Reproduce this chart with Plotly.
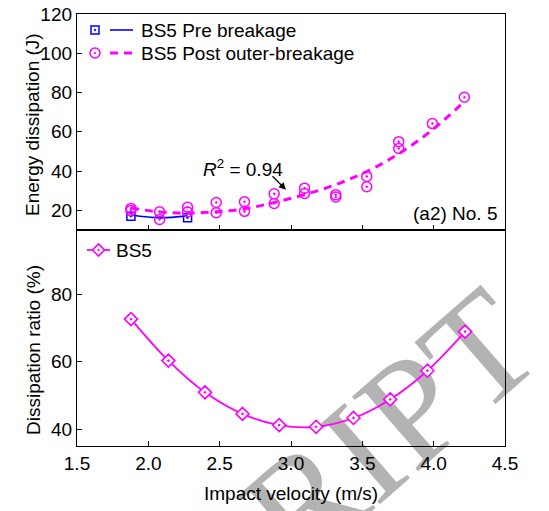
import plotly.graph_objects as go
from plotly.subplots import make_subplots

# ---------------- data ----------------
# Top panel: energy dissipation (J)
pre_v = [1.878, 2.275]
pre_E = [17.0, 16.3]
pre_fit_v = [1.878, 2.079, 2.275]
pre_fit_E = [17.6, 16.2, 17.2]

post_v = [1.878, 1.878, 2.079, 2.079, 2.275, 2.275, 2.476, 2.476, 2.674, 2.674,
          2.882, 2.882, 3.095, 3.095, 3.314, 3.314, 3.531, 3.531, 3.755, 3.755,
          3.991, 4.215]
post_E = [21.0, 19.9, 19.3, 15.4, 21.6, 19.2, 24.0, 18.8, 24.4, 19.5,
          28.4, 23.5, 31.3, 28.6, 28.0, 26.8, 37.3, 32.0, 55.0, 51.5,
          64.2, 77.6]
post_fit_v = [1.878, 2.079, 2.275, 2.476, 2.674, 2.882, 3.095, 3.314, 3.531,
              3.755, 3.991, 4.215]
post_fit_E = [21.2, 19.2, 18.6, 19.3, 20.8, 24.0, 28.0, 33.1, 39.8, 48.8,
              61.0, 75.4]

# Bottom panel: dissipation ratio (%)
ratio_v = [1.878, 2.140, 2.397, 2.660, 2.917, 3.176, 3.438, 3.695, 3.956, 4.220]
ratio = [72.6, 60.3, 50.9, 44.5, 41.2, 40.7, 43.3, 48.8, 57.3, 68.9]

x_ticks = [1.5, 2.0, 2.5, 3.0, 3.5, 4.0, 4.5]
x_ticktext = ["1.5", "2.0", "2.5", "3.0", "3.5", "4.0", "4.5"]
y1_ticks = [20, 40, 60, 80, 100, 120]
y2_ticks = [40, 60, 80]

BLUE = "#0000ff"
MAG = "#ff00ff"
FONT = "Liberation Sans, Arial, sans-serif"
FS = 19

# ---------------- layout geometry (page pixels) ----------------
W, H = 549, 511
PLOT_L, PLOT_R, PLOT_T, PLOT_B = 77, 505, 14, 446
L, T = PLOT_L, PLOT_T
R, B = W - PLOT_R, H - PLOT_B
PW, PH = PLOT_R - PLOT_L, PLOT_B - PLOT_T


def px_x(px):
    return (px - PLOT_L) / PW


def px_y(py):
    return (PLOT_B - py) / PH


fig = make_subplots(rows=2, cols=1, shared_xaxes=True, vertical_spacing=0)

# top panel traces
fig.add_trace(go.Scatter(x=pre_fit_v, y=pre_fit_E, mode="lines",
                         line=dict(color=BLUE, width=1.6, shape="spline"),
                         showlegend=False), row=1, col=1)
fig.add_trace(go.Scatter(x=pre_v, y=pre_E, mode="markers",
                         marker=dict(symbol="square-open-dot", size=8, color=BLUE,
                                     line=dict(color=BLUE, width=1.5)),
                         showlegend=False), row=1, col=1)
fig.add_trace(go.Scatter(x=post_fit_v, y=post_fit_E, mode="lines",
                         line=dict(color=MAG, width=3, shape="spline", dash="8px,6px"),
                         showlegend=False), row=1, col=1)
fig.add_trace(go.Scatter(x=post_v, y=post_E, mode="markers",
                         marker=dict(symbol="circle-open-dot", size=10, color=MAG,
                                     line=dict(color=MAG, width=1.5)),
                         showlegend=False), row=1, col=1)

# bottom panel trace
fig.add_trace(go.Scatter(x=ratio_v, y=ratio, mode="lines+markers",
                         line=dict(color=MAG, width=1.8, shape="spline"),
                         marker=dict(symbol="diamond-dot", size=10, color="white",
                                     line=dict(color=MAG, width=1.6)),
                         showlegend=False), row=2, col=1)

axis_common = dict(showline=True, linecolor="black", linewidth=1.3, mirror=True,
                   ticks="inside", ticklen=5, tickwidth=1.2, tickcolor="black",
                   showgrid=False, zeroline=False, automargin=False,
                   ticklabeloverflow="allow",
                   tickfont=dict(family=FONT, size=FS, color="black"))

fig.update_xaxes(range=[1.5, 4.5], tickvals=x_ticks, ticktext=x_ticktext, **axis_common)
fig.update_xaxes(showticklabels=False, row=1, col=1)
fig.update_yaxes(range=[10, 120], tickvals=y1_ticks, row=1, col=1, **axis_common)
fig.update_yaxes(range=[35, 99], tickvals=y2_ticks, row=2, col=1, **axis_common)

txt_font = dict(family=FONT, size=FS, color="black")
annotations = []
# axis titles
annotations.append(dict(text="Energy dissipation (J)", xref="paper", yref="paper",
                        x=px_x(33), y=px_y(125), textangle=-90, showarrow=False,
                        xanchor="center", yanchor="middle", font=txt_font))
annotations.append(dict(text="Dissipation ratio (%)", xref="paper", yref="paper",
                        x=px_x(33), y=px_y(350), textangle=-90, showarrow=False,
                        xanchor="center", yanchor="middle", font=txt_font))
annotations.append(dict(text="Impact velocity (m/s)", xref="paper", yref="paper",
                        x=px_x(291), y=px_y(493), showarrow=False,
                        xanchor="center", yanchor="middle", font=txt_font))
# legend texts
annotations.append(dict(text="BS5 Pre breakage", xref="paper", yref="paper",
                        x=px_x(139), y=px_y(30), showarrow=False,
                        xanchor="left", yanchor="middle", font=txt_font))
annotations.append(dict(text="BS5 Post outer-breakage", xref="paper", yref="paper",
                        x=px_x(139), y=px_y(53), showarrow=False,
                        xanchor="left", yanchor="middle", font=txt_font))
annotations.append(dict(text="BS5", xref="paper", yref="paper",
                        x=px_x(114), y=px_y(250), showarrow=False,
                        xanchor="left", yanchor="middle", font=txt_font))
# panel label
annotations.append(dict(text="(a2) No. 5", xref="paper", yref="paper",
                        x=px_x(499), y=px_y(214), showarrow=False,
                        xanchor="right", yanchor="middle", font=txt_font))
# R^2 label and arrow
annotations.append(dict(text="<i>R</i><sup>2</sup> = 0.94", xref="paper", yref="paper",
                        x=px_x(243), y=px_y(168), showarrow=False,
                        xanchor="center", yanchor="middle", font=txt_font))
annotations.append(dict(text="", x=2.965, y=30.5, xref="x", yref="y",
                        showarrow=True, ax=-15, ay=-15, arrowhead=2,
                        arrowsize=1.1, arrowwidth=1.3, arrowcolor="black"))

shapes = []
# watermark, drawn beneath the data
shapes.append(dict(type="rect", xref="paper", yref="paper", layer="below",
                   x0=px_x(374), x1=px_x(384), y0=px_y(420), y1=px_y(410),
                   line=dict(width=0), fillcolor="rgba(0,0,0,0)",
                   label=dict(text="RIPT", textangle=-41, textposition="middle center",
                              padding=0,
                              font=dict(family="Liberation Serif, Times New Roman, serif",
                                        size=152, color="#b3b3b3"))))
# legend glyphs (top panel)
shapes.append(dict(type="rect", xref="paper", yref="paper",
                   xsizemode="pixel", ysizemode="pixel",
                   xanchor=px_x(95), yanchor=px_y(30), x0=-4, x1=4, y0=-4, y1=4,
                   line=dict(color=BLUE, width=1.5)))
shapes.append(dict(type="circle", xref="paper", yref="paper",
                   xsizemode="pixel", ysizemode="pixel",
                   xanchor=px_x(95), yanchor=px_y(30), x0=-0.9, x1=0.9, y0=-0.9, y1=0.9,
                   fillcolor=BLUE, line=dict(color=BLUE, width=0.5)))
shapes.append(dict(type="line", xref="paper", yref="paper",
                   x0=px_x(110), x1=px_x(133), y0=px_y(30), y1=px_y(30),
                   line=dict(color=BLUE, width=1.6)))
shapes.append(dict(type="circle", xref="paper", yref="paper",
                   xsizemode="pixel", ysizemode="pixel",
                   xanchor=px_x(95), yanchor=px_y(53), x0=-5, x1=5, y0=-5, y1=5,
                   line=dict(color=MAG, width=1.5)))
shapes.append(dict(type="circle", xref="paper", yref="paper",
                   xsizemode="pixel", ysizemode="pixel",
                   xanchor=px_x(95), yanchor=px_y(53), x0=-0.9, x1=0.9, y0=-0.9, y1=0.9,
                   fillcolor=MAG, line=dict(color=MAG, width=0.5)))
shapes.append(dict(type="line", xref="paper", yref="paper",
                   x0=px_x(110), x1=px_x(133), y0=px_y(53), y1=px_y(53),
                   line=dict(color=MAG, width=3, dash="8px,6px")))
# legend glyph (bottom panel)
shapes.append(dict(type="line", xref="paper", yref="paper",
                   x0=px_x(87), x1=px_x(110), y0=px_y(250), y1=px_y(250),
                   line=dict(color=MAG, width=1.8)))
shapes.append(dict(type="path", xref="paper", yref="paper",
                   xsizemode="pixel", ysizemode="pixel",
                   xanchor=px_x(98.5), yanchor=px_y(250),
                   path="M -6 0 L 0 6 L 6 0 L 0 -6 Z",
                   fillcolor="white", line=dict(color=MAG, width=1.6)))
shapes.append(dict(type="circle", xref="paper", yref="paper",
                   xsizemode="pixel", ysizemode="pixel",
                   xanchor=px_x(98.5), yanchor=px_y(250), x0=-0.9, x1=0.9, y0=-0.9, y1=0.9,
                   fillcolor=MAG, line=dict(color=MAG, width=0.5)))

fig.update_layout(width=W, height=H, autosize=False,
                  margin=dict(l=L, r=R, t=T, b=B, pad=0),
                  paper_bgcolor="white", plot_bgcolor="white",
                  showlegend=False,
                  font=dict(family=FONT, size=FS, color="black"),
                  annotations=annotations, shapes=shapes)

# remove the page's default 8px body margin so the figure sits at the window origin
fig.write_html("out.html", config={"displayModeBar": False},
               post_script="document.body.style.margin='0px';")
